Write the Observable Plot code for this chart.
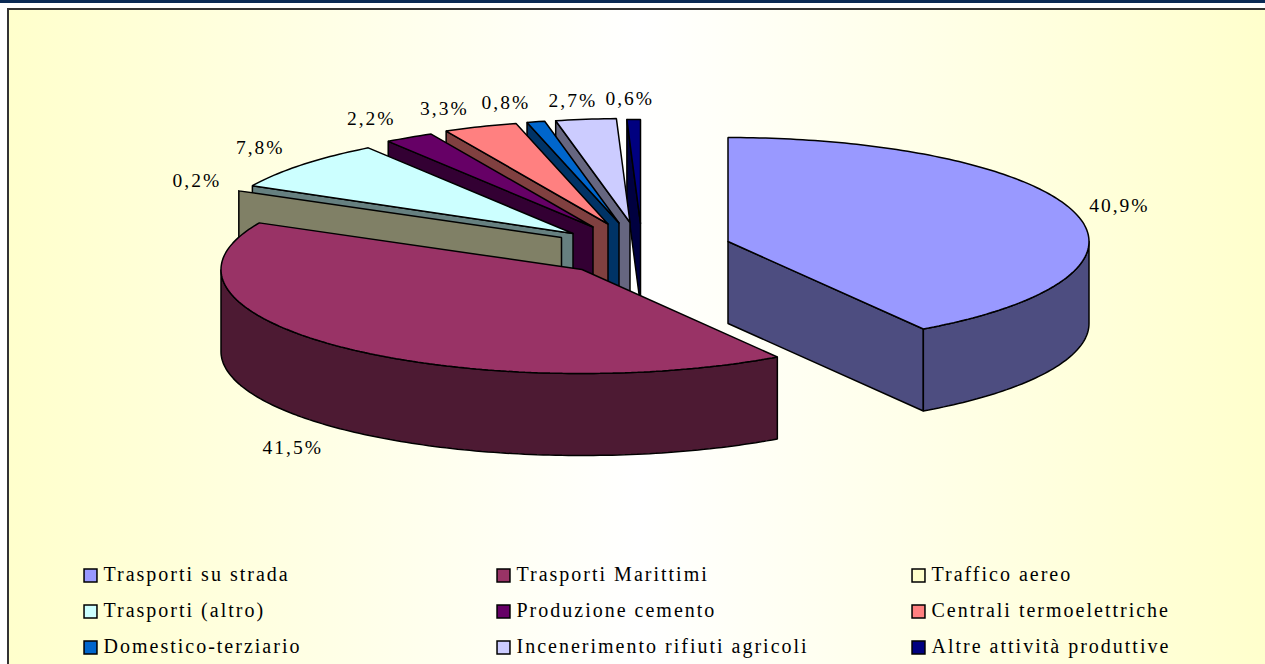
<!DOCTYPE html>
<html><head><meta charset="utf-8">
<script src="https://cdn.jsdelivr.net/npm/d3@7"></script>
<script src="https://cdn.jsdelivr.net/npm/@observablehq/plot@0.6"></script>
<style>
html,body{margin:0;padding:0;background:#fff;overflow:hidden}
#page{position:relative;width:1265px;height:664px;overflow:hidden}
#band{position:absolute;left:0;top:0;width:1265px;height:3px;background:#0a2a55}
#panel{position:absolute;left:7px;top:8px;width:1262px;height:670px;border:2px solid #333;background:linear-gradient(90deg,#ffffcc 0%,#ffffff 50%,#ffffcc 100%)}
#chart{position:absolute;left:0;top:0}
</style></head><body>
<div id="page"><div id="band"></div><div id="panel"></div><div id="chart"></div></div>
<script>
const names = ["Trasporti su strada","Trasporti Marittimi","Traffico aereo","Trasporti (altro)","Produzione cemento","Centrali termoelettriche","Domestico-terziario","Incenerimento rifiuti agricoli","Altre attività produttive"];
const values = [40.9,41.5,0.2,7.8,2.2,3.3,0.8,2.7,0.6];
const valueLabels = ["40,9%","41,5%","0,2%","7,8%","2,2%","3,3%","0,8%","2,7%","0,6%"];
const faceColors = ["#9999ff","#993366","#ffffcc","#ccffff","#660066","#ff8080","#0066cc","#ccccff","#000080"];
const wallColors = ["#4d4d80","#4d1a33","#808066","#668080","#330033","#804040","#003366","#666680","#000040"];

// Layout of the exploded 3D pie
const centers = [[727.5,241],[581.5,269],[561,237],[572.5,233],[592.5,226.5],[607.5,223.5],[618.5,222.5],[629.5,222],[640,223]];
const rx = 361, ry = 104, depth = 82;
const labelNudges = [[45,-6],[-48,101],[-43,-10],[-42,-17],[-38,-19],[-36,-18],[-30,-19],[-13,-19],[-4,-21]];
const drawOrder = [8,7,6,5,4,3,2,0,1];
const minFaceAngle = Math.PI/180; // a face narrower than this is seen edge-on

const arcs = d3.pie().sort(null).value(d => d)(values);
const rim = (i, a, dz = 0) => [centers[i][0] + rx*Math.sin(a), centers[i][1] - ry*Math.cos(a) + dz];
const arcPts = (i, a0, a1, dz = 0) => {
  const n = Math.max(2, Math.ceil(Math.abs(a1-a0)/(Math.PI/180)));
  return d3.range(n+1).map(k => rim(i, a0+(a1-a0)*k/n, dz));
};
const pieces = [];
const add = (id, fill, pts) => { pts.concat([pts[0]]).forEach(p => pieces.push({id, fill, x:p[0], y:p[1]})); };

drawOrder.forEach(i => {
  const {startAngle:s, endAngle:e} = arcs[i];
  const [cx,cy] = centers[i];
  const c = [cx,cy], cb = [cx,cy+depth];
  if (i === 0) {
    add("end0", wallColors[i], [c, rim(i,e), rim(i,e,depth), cb]);
    add("rim0", wallColors[i], [...arcPts(i,Math.PI/2,e), ...arcPts(i,e,Math.PI/2,depth)]);
  } else if (i === 1) {
    add("rim1", wallColors[i], [...arcPts(i,s,1.5*Math.PI), ...arcPts(i,1.5*Math.PI,s,depth)]);
  } else {
    add("start"+i, wallColors[i], [rim(i,s), c, cb, rim(i,s,depth)]);
  }
  if (e - s >= minFaceAngle) add("top"+i, faceColors[i], [c, ...arcPts(i,s,e)]);
});

const labels = arcs.map((a,i) => {
  const p = rim(i, (a.startAngle+a.endAngle)/2);
  return {text:valueLabels[i], x:p[0]+labelNudges[i][0], y:p[1]+labelNudges[i][1]};
});

const legendX = [90,503,918], legendY = [575,611,647], legendTextDx = 13, legendTextDy = -1;
const legend = names.map((n,i) => ({name:n, color:faceColors[i], x:legendX[i%3], y:legendY[Math.floor(i/3)]}));

const plot = Plot.plot({
  width:1265, height:664,
  marginTop:0, marginRight:0, marginBottom:0, marginLeft:0,
  x:{domain:[0,1265], range:[0,1265], axis:null},
  y:{domain:[0,664], range:[0,664], axis:null},
  color:{type:"identity"},
  style:{background:"transparent", fontFamily:"'Liberation Serif',serif", letterSpacing:"2px", color:"#000", overflow:"visible"},
  marks:[
    Plot.line(pieces,{x:"x", y:"y", z:"id", fill:"fill", stroke:"black", strokeWidth:1.5, strokeLinejoin:"miter"}),
    Plot.text(labels,{x:"x", y:"y", text:"text", fontSize:19.5, fill:"black"}),
    Plot.dot(legend,{x:"x", y:"y", symbol:"square", r:7.3, fill:"color", stroke:"black", strokeWidth:1.5}),
    Plot.text(legend,{x:"x", y:"y", dx:legendTextDx, dy:legendTextDy, text:"name", textAnchor:"start", fontSize:20, fill:"black"})
  ]
});
document.getElementById("chart").appendChild(plot);
</script>
</body></html>
